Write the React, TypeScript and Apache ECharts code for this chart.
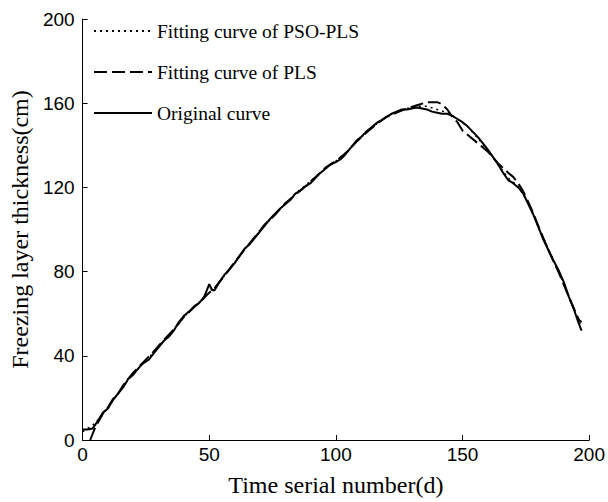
import React, { useEffect, useRef } from "react";
import * as echarts from "echarts";

// Original curve (solid)
const originalDays = [0, 2, 4, 6, 8, 10, 12, 14, 16, 18, 20, 22, 24, 26, 28, 30, 32, 34, 36, 38, 40, 42, 44, 46, 48, 49, 50, 51, 52, 54, 56, 58, 60, 62, 64, 66, 68, 70, 72, 74, 76, 78, 80, 82, 84, 86, 88, 90, 92, 94, 96, 98, 100, 102, 104, 106, 108, 110, 112, 114, 116, 118, 120, 122, 124, 126, 128, 130, 132, 134, 136, 138, 140, 142, 144, 146, 148, 150, 152, 154, 156, 158, 160, 162, 164, 166, 168, 170, 172, 174, 176, 178, 180, 182, 184, 186, 188, 190, 192, 194, 196, 197];
const originalValues = [5, 5, 5.5, 9, 13, 15, 19, 22, 25, 29, 31, 34, 36.5, 38, 41, 44, 47, 49, 52, 56, 59, 61, 63.5, 65, 68, 71, 74, 71.5, 71, 75, 78.5, 81, 84, 87.5, 91, 93, 96, 99, 102, 105, 107.5, 110, 112, 114, 117, 118.5, 120.5, 122, 124.5, 127, 129, 131, 132, 133.5, 136, 139, 142, 144, 146.5, 148.5, 150.5, 152, 153.5, 155, 156, 157, 157, 157.5, 158, 157.5, 157, 156, 155.5, 155, 155, 154, 152.5, 151, 149, 146.5, 144, 141, 138, 134.5, 131, 127, 123.5, 122, 120, 117, 112, 107, 101, 95, 90, 85, 80.5, 75, 68, 62, 55, 52];

// Fitting curve of PLS (dashed)
const plsDays = [3, 5, 8, 10, 12, 14, 16, 18, 20, 24, 28, 32, 36, 40, 44, 48, 50, 52, 56, 60, 64, 68, 72, 76, 80, 84, 88, 92, 96, 100, 104, 108, 112, 116, 120, 124, 128, 132, 136, 140, 142, 144, 146, 148, 150, 152, 156, 160, 164, 168, 170, 172, 174, 176, 178, 180, 184, 188, 192, 196, 197];
const plsValues = [0, 6, 12.5, 15.5, 19.5, 22, 26, 29, 32, 37, 42, 47.5, 52.5, 58.5, 63, 67.5, 70, 72, 78, 84.5, 90.5, 96.5, 102.5, 107, 112.5, 116.5, 120.5, 125, 129.5, 132.5, 136.5, 141.5, 146, 150, 153.5, 155.5, 157.5, 159, 160.5, 160.5, 159.5, 157, 153.5, 151, 147, 145, 141, 137, 131.5, 127, 125, 122, 118, 113, 107.5, 101.5, 90, 79.5, 68, 57, 56];

// Fitting curve of PSO-PLS (dotted)
const psoDays = [0, 4, 8, 12, 16, 20, 24, 28, 32, 36, 40, 44, 48, 52, 56, 60, 64, 68, 72, 76, 80, 84, 88, 92, 96, 100, 104, 108, 112, 116, 120, 124, 128, 132, 136, 140, 144, 148, 152, 156, 160, 164, 168, 172, 176, 180, 184, 188, 192, 196, 197];
const psoValues = [4, 7, 12, 19, 25.5, 31.5, 36.5, 41.5, 47, 52, 58.5, 63, 68, 72, 78, 84, 90.5, 96.5, 102, 107.5, 112, 117, 121, 125, 129, 132.5, 136.5, 141.5, 146, 150, 153.5, 156, 157.5, 158.5, 158.5, 157, 155.5, 152.5, 149, 143.5, 137.5, 131, 124.5, 120.5, 112.5, 101, 90.5, 80, 68, 56, 54];

const seriesNames = ["Fitting curve of PSO-PLS", "Fitting curve of PLS", "Original curve"];
const xAxisTitle = "Time serial number(d)";
const yAxisTitle = "Freezing layer thickness(cm)";

const zip = (xs: number[], ys: number[]) => xs.map((x, i) => [x, ys[i]]);

export default function App() {
  const ref = useRef<HTMLDivElement>(null);
  useEffect(() => {
    const chart = echarts.init(ref.current!, null, { renderer: "svg" });
    const tickLabel = { fontFamily: "Liberation Sans", fontSize: 19, color: "#000" };
    const titleFont = { fontFamily: "Liberation Serif", fontSize: 24, color: "#000" };
    chart.setOption({
      animation: false,
      backgroundColor: "#fff",
      grid: { left: 79, top: 19, right: 14, bottom: 58, containLabel: false },
      legend: {
        orient: "vertical",
        left: 93,
        top: 21,
        itemWidth: 58,
        itemHeight: 20,
        itemGap: 21,
        padding: 0,
        itemStyle: { color: "rgba(0,0,0,0)", borderColor: "rgba(0,0,0,0)", borderWidth: 0 },
        textStyle: { fontFamily: "Liberation Serif", fontSize: 19.5, color: "#000", lineHeight: 20 },
        data: seriesNames,
      },
      xAxis: {
        type: "value",
        min: 0,
        max: 200,
        interval: 50,
        name: xAxisTitle,
        nameLocation: "middle",
        nameGap: 33,
        nameTextStyle: titleFont,
        axisLine: { show: true, lineStyle: { color: "#000", width: 1 } },
        axisTick: { show: true, inside: true, length: 5, lineStyle: { color: "#000" } },
        axisLabel: { ...tickLabel, margin: 5 },
        splitLine: { show: false },
      },
      yAxis: {
        type: "value",
        min: 0,
        max: 200,
        interval: 40,
        name: yAxisTitle,
        nameLocation: "middle",
        nameGap: 50,
        nameTextStyle: titleFont,
        axisLine: { show: true, lineStyle: { color: "#000", width: 1 } },
        axisTick: { show: true, inside: true, length: 5, lineStyle: { color: "#000" } },
        axisLabel: { ...tickLabel, margin: 8 },
        splitLine: { show: false },
      },
      series: [
        {
          name: seriesNames[0],
          type: "line",
          data: zip(psoDays, psoValues),
          symbol: "none",
          lineStyle: { color: "#000", width: 1.5, type: [2, 4] },
          itemStyle: { color: "#000" },
        },
        {
          name: seriesNames[1],
          type: "line",
          data: zip(plsDays, plsValues),
          symbol: "none",
          lineStyle: { color: "#000", width: 2, type: [13, 5] },
          itemStyle: { color: "#000" },
        },
        {
          name: seriesNames[2],
          type: "line",
          data: zip(originalDays, originalValues),
          symbol: "none",
          lineStyle: { color: "#000", width: 2, type: "solid" },
          itemStyle: { color: "#000" },
        },
      ],
    });
    return () => chart.dispose();
  }, []);
  return <div ref={ref} style={{ position: "absolute", left: 0, top: 0, width: 608, height: 502 }} />;
}
